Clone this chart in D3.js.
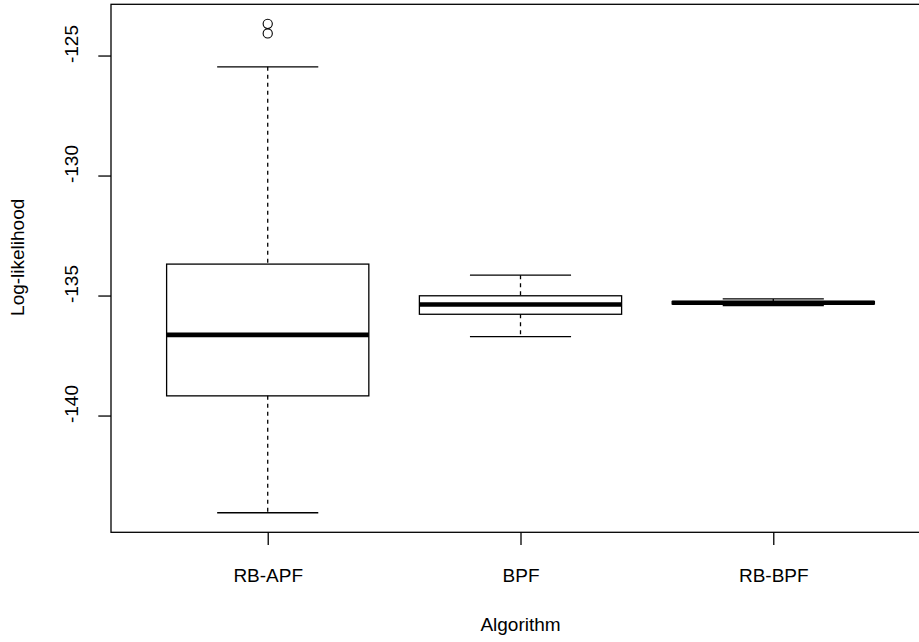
<!DOCTYPE html>
<html>
<head>
<meta charset="utf-8">
<script src="https://cdn.jsdelivr.net/npm/d3@7"></script>
<style>
  body { margin: 0; background: #fff; }
  text { font-family: "Liberation Sans", Arial, sans-serif; fill: #000; }
</style>
</head>
<body>
<div id="chart"></div>
<script>
// five-number summaries
var categories = ["RB-APF", "BPF", "RB-BPF"];
var lowerWhisker = [-144.05, -136.71, -135.42];
var q1 = [-139.18, -135.78, -135.35];
var median = [-136.64, -135.375, -135.30];
var q3 = [-133.69, -135.01, -135.25];
var upperWhisker = [-125.47, -134.15, -135.14];
var outliers = [[-123.68, -124.08], [], []];
var yTicks = [-140, -135, -130, -125];

var width = 919, height = 642;
var mLeft = 111, mRight = 930, mTop = 4.3, mBottom = 532.3;
var fontSize = 19;

var svg = d3.select("#chart")
    .append("svg")
    .attr("width", width)
    .attr("height", height);

var boxes = categories.map(function (c, i) {
    return { name: c, i: i + 1, lo: lowerWhisker[i], q1: q1[i], med: median[i],
             q3: q3[i], hi: upperWhisker[i], out: outliers[i] };
});

// R style limits: 4% padding round the data range
var all = d3.merge([lowerWhisker, upperWhisker, d3.merge(outliers)]);
var ymin = d3.min(all), ymax = d3.max(all), pad = (ymax - ymin) * 0.04;
var y = d3.scaleLinear().domain([ymin - pad, ymax + pad]).range([mBottom, mTop]);
var x = d3.scaleLinear().domain([0.5 - 0.12, categories.length + 0.5 + 0.12]).range([mLeft, mRight]);

var boxW = (x(1) - x(0)) * 0.8;
var capW = boxW / 2;

var g = svg.append("g");

boxes.forEach(function (d) {
    var cx = x(d.i);
    // whiskers
    g.append("line")
        .attr("x1", cx).attr("x2", cx)
        .attr("y1", y(d.hi)).attr("y2", y(d.q3))
        .attr("stroke", "#000").attr("stroke-width", 1.3)
        .attr("stroke-dasharray", "4,4");
    g.append("line")
        .attr("x1", cx).attr("x2", cx)
        .attr("y1", y(d.q1)).attr("y2", y(d.lo))
        .attr("stroke", "#000").attr("stroke-width", 1.3)
        .attr("stroke-dasharray", "4,4");
    // caps
    [d.hi, d.lo].forEach(function (v) {
        g.append("line")
            .attr("x1", cx - capW / 2).attr("x2", cx + capW / 2)
            .attr("y1", y(v)).attr("y2", y(v))
            .attr("stroke", "#000").attr("stroke-width", 1.3);
    });
    // box
    g.append("rect")
        .attr("x", cx - boxW / 2)
        .attr("y", y(d.q3))
        .attr("width", boxW)
        .attr("height", y(d.q1) - y(d.q3))
        .attr("fill", "none")
        .attr("stroke", "#000").attr("stroke-width", 1.3);
    // median
    g.append("line")
        .attr("x1", cx - boxW / 2).attr("x2", cx + boxW / 2)
        .attr("y1", y(d.med)).attr("y2", y(d.med))
        .attr("stroke", "#000").attr("stroke-width", 4.6);
    // outliers
    g.selectAll(null)
        .data(d.out)
        .enter()
        .append("circle")
        .attr("cx", cx)
        .attr("cy", function (v) { return y(v); })
        .attr("r", 4.6)
        .attr("fill", "none")
        .attr("stroke", "#000").attr("stroke-width", 1.1);
});

// frame
svg.append("rect")
    .attr("x", mLeft).attr("y", mTop)
    .attr("width", mRight - mLeft).attr("height", mBottom - mTop)
    .attr("fill", "none")
    .attr("stroke", "#000").attr("stroke-width", 1.3);

// axes
var yAxis = d3.axisLeft(y).tickValues(yTicks).tickSize(12.7)
    .tickFormat(function (d) { return String(d); });
var gy = svg.append("g")
    .attr("transform", "translate(" + mLeft + ",0)")
    .call(yAxis);
gy.select(".domain").remove();
gy.selectAll(".tick line").attr("stroke", "#000").attr("stroke-width", 1.3);
// rotated labels sit a little above their ticks, as in the original
gy.selectAll(".tick text")
    .attr("font-size", fontSize)
    .attr("font-family", "Liberation Sans, Arial, sans-serif")
    .attr("text-anchor", "middle")
    .attr("x", null).attr("dy", null).attr("y", null)
    .attr("transform", "translate(-33,-12) rotate(-90)");

var xAxis = d3.axisBottom(x).tickValues([1, 2, 3]).tickSize(12.7)
    .tickFormat(function (d) { return categories[d - 1]; });
var gx = svg.append("g")
    .attr("transform", "translate(0," + mBottom + ")")
    .call(xAxis);
gx.select(".domain").remove();
gx.selectAll(".tick line").attr("stroke", "#000").attr("stroke-width", 1.3);
gx.selectAll(".tick text")
    .attr("font-size", fontSize)
    .attr("font-family", "Liberation Sans, Arial, sans-serif")
    .attr("dy", null)
    .attr("y", 50);

// axis titles
svg.append("text")
    .attr("x", (mLeft + mRight) / 2)
    .attr("y", 631)
    .attr("text-anchor", "middle")
    .attr("font-size", fontSize)
    .text("Algorithm");

svg.append("text")
    .attr("transform", "translate(24," + ((mTop + mBottom) / 2 - 11) + ") rotate(-90)")
    .attr("text-anchor", "middle")
    .attr("font-size", fontSize)
    .text("Log-likelihood");
</script>
</body>
</html>
